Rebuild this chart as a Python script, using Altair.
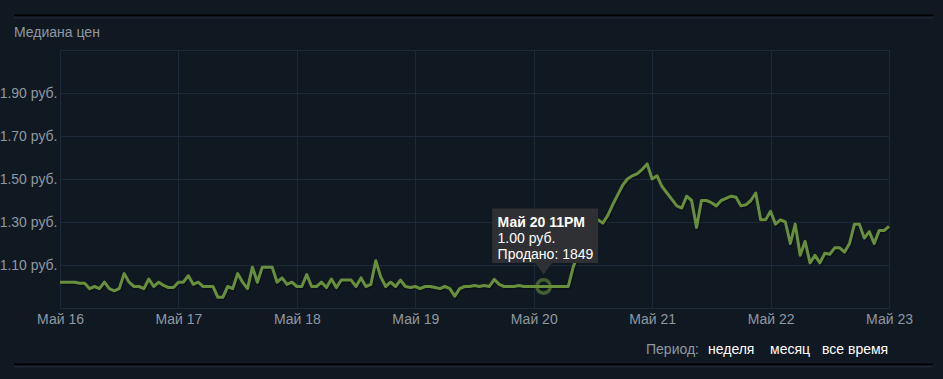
import altair as alt
import pandas as pd

# Hourly median price, Май 16 00:00 .. Май 23 00:00
prices = [
    1.02, 1.02, 1.02, 1.02, 1.015, 1.015, 0.99, 1.00, 0.99, 1.02,
    0.99, 0.98, 0.99, 1.06, 1.02, 1.00, 1.00, 0.99, 1.035, 1.00,
    1.02, 1.005, 0.995, 0.995, 1.02, 1.02, 1.05, 1.01, 1.02, 1.00,
    1.00, 1.00, 0.95, 0.95, 1.00, 0.99, 1.06, 1.02, 0.99, 1.09,
    1.02, 1.09, 1.09, 1.09, 1.02, 1.04, 1.01, 1.02, 1.00, 1.00,
    1.055, 1.00, 1.00, 1.02, 0.995, 1.035, 0.995, 1.03, 1.03, 1.03,
    1.00, 1.04, 1.00, 1.01, 1.12, 1.045, 1.00, 1.02, 1.00, 1.03,
    1.00, 0.995, 1.00, 0.99, 1.00, 1.00, 0.995, 0.99, 1.00, 0.99,
    0.955, 0.99, 1.00, 1.00, 1.005, 1.00, 1.005, 1.00, 1.033, 1.01,
    1.00, 1.00, 1.00, 1.005, 1.00, 1.00, 1.00, 1.00, 1.00, 1.00,
    1.00, 1.00, 1.00, 1.00, 1.09, 1.15, 1.21, 1.27, 1.31, 1.31,
    1.295, 1.33, 1.38, 1.425, 1.47, 1.50, 1.515, 1.525, 1.545, 1.57,
    1.50, 1.515, 1.465, 1.435, 1.405, 1.375, 1.365, 1.42, 1.40, 1.275,
    1.40, 1.40, 1.39, 1.375, 1.40, 1.41, 1.42, 1.415, 1.375, 1.38,
    1.40, 1.435, 1.31, 1.31, 1.35, 1.29, 1.31, 1.30, 1.20, 1.29,
    1.145, 1.21, 1.11, 1.145, 1.11, 1.155, 1.15, 1.18, 1.18, 1.16,
    1.20, 1.29, 1.29, 1.225, 1.255, 1.20, 1.26, 1.26, 1.28,
]
day_ticks = [16, 17, 18, 19, 20, 21, 22, 23]
price_ticks = [1.10, 1.30, 1.50, 1.70, 1.90]
chart_title = "Медиана цен"
period_labels = ["Период:", "неделя", "месяц", "все время"]
hover_index = 98
hover_label = "Май 20 11PM"
hover_sold = 1849

FONT = "Liberation Sans"
BG = "#101822"
GRID = "#1b2939"
LABEL = "#8f98a0"
GREEN = "#688f3e"

times = pd.date_range("2023-05-16 00:00", periods=len(prices), freq="h")
df = pd.DataFrame({"time": times, "price": prices})
hover_df = pd.DataFrame({
    "time": [times[hover_index]],
    "price": [prices[hover_index]],
    "l1": [hover_label],
    "l2": [f"{prices[hover_index]:.2f} руб."],
    "l3": [f"Продано: {hover_sold}"],
})
one = pd.DataFrame({"_": [0]})

x_enc = alt.X(
    "time:T",
    scale=alt.Scale(
        domain=[alt.DateTime(year=2023, month=5, date=16),
                alt.DateTime(year=2023, month=5, date=23)],
        nice=False,
    ),
    axis=alt.Axis(
        values=[alt.DateTime(year=2023, month=5, date=d) for d in day_ticks],
        labelExpr="'Май ' + date(datum.value)",
        labelFlush=False, labelOverlap=False, labelPadding=4,
        ticks=False, domain=False, grid=True, gridColor=GRID,
        labelColor=LABEL, labelFont=FONT, labelFontSize=14, title=None,
    ),
)
y_enc = alt.Y(
    "price:Q",
    scale=alt.Scale(domain=[0.9, 2.1], nice=False, zero=False),
    axis=alt.Axis(
        values=price_ticks,
        labelExpr="format(datum.value, '.2f') + ' руб.'",
        labelPadding=3, ticks=False, domain=False, grid=True, gridColor=GRID,
        labelColor=LABEL, labelFont=FONT, labelFontSize=14, title=None,
    ),
)

shadow = alt.Chart(df).mark_line(
    color="#000000", opacity=0.3, strokeWidth=3, xOffset=1, yOffset=1.5,
    strokeJoin="round"
).encode(x=x_enc, y=y_enc)

line = alt.Chart(df).mark_line(
    color=GREEN, strokeWidth=3, strokeJoin="round"
).encode(x=x_enc, y=y_enc)

ring = alt.Chart(hover_df).mark_point(
    shape="circle", size=180, filled=False, stroke=GREEN, strokeWidth=3.5,
    opacity=0.6
).encode(x="time:T", y="price:Q")

box_path = "M-0.515,-0.78 H0.545 V-0.235 H0.085 L0,-0.12 L-0.08,-0.235 H-0.515 Z"
box = alt.Chart(hover_df).mark_point(
    shape=box_path, size=40000, filled=True, fill="#2f3033", strokeWidth=0,
    opacity=1
).encode(x="time:T", y="price:Q")

tip_l1 = alt.Chart(hover_df).mark_text(
    align="left", baseline="middle", dx=-46, dy=-64, font=FONT, fontSize=14,
    fontWeight="bold", color="#ffffff"
).encode(x="time:T", y="price:Q", text="l1:N")
tip_l2 = alt.Chart(hover_df).mark_text(
    align="left", baseline="middle", dx=-46, dy=-48, font=FONT, fontSize=14,
    color="#ffffff"
).encode(x="time:T", y="price:Q", text="l2:N")
tip_l3 = alt.Chart(hover_df).mark_text(
    align="left", baseline="middle", dx=-46, dy=-32, font=FONT, fontSize=14,
    color="#ffffff"
).encode(x="time:T", y="price:Q", text="l3:N")

title_txt = alt.Chart(one).mark_text(
    align="left", baseline="middle", font=FONT, fontSize=14, color=LABEL
).encode(x=alt.value(-46), y=alt.value(-17), text=alt.value(chart_title))


def sep(y, color):
    return alt.Chart(one).mark_rule(color=color, strokeWidth=2).encode(
        x=alt.value(-46), x2=alt.value(873), y=alt.value(y)
    )


seps = [sep(-34.5, "#000000"), sep(-32.5, "#1b2430"),
        sep(314.5, "#000000"), sep(316.5, "#1b2430")]

period_x = [586, 648, 710, 762]
period_layers = []
for i, (lab, px) in enumerate(zip(period_labels, period_x)):
    period_layers.append(
        alt.Chart(one).mark_text(
            align="left", baseline="middle", font=FONT, fontSize=14,
            color=LABEL if i == 0 else "#ffffff"
        ).encode(x=alt.value(px), y=alt.value(300), text=alt.value(lab))
    )

chart = alt.layer(
    shadow, line, ring, box, tip_l1, tip_l2, tip_l3, title_txt,
    *seps, *period_layers
).properties(
    width=829, height=258,
    padding={"left": 60, "top": 50, "right": 54, "bottom": 71},
    autosize=alt.AutoSizeParams(type="none"),
    background=BG,
).configure_view(stroke=GRID, strokeWidth=1, fill=BG)

chart.save("out.html", embed_options={"renderer": "svg", "actions": False})
